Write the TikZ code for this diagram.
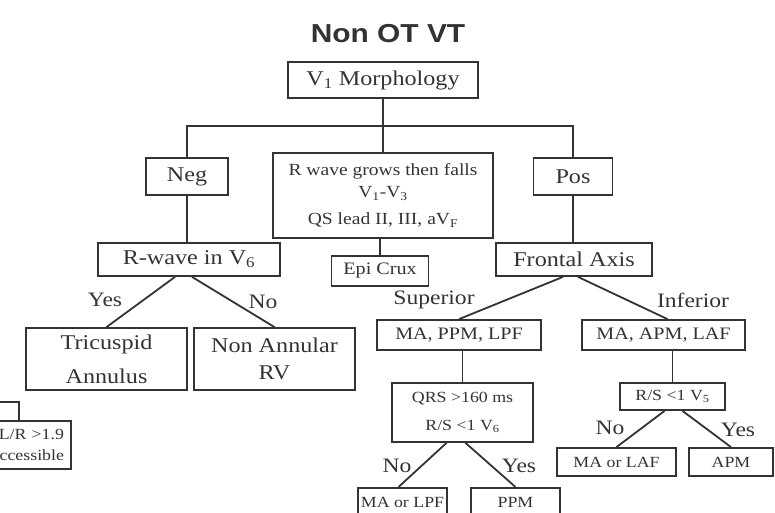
\documentclass[tikz,border=0pt]{standalone}
\usepackage{fontspec}
\setmainfont{Liberation Serif}[FakeStretch=1.15]
\newfontfamily\titlefont{Liberation Sans}[FakeStretch=1.15]
\definecolor{ink}{HTML}{333333}
\newcommand{\fs}[1]{\fontsize{#1}{#1}\selectfont}
\begin{document}
\begin{tikzpicture}[x=1pt, y=-1pt]
\tikzset{box/.style={draw=ink, line width=1.8pt, text=ink, inner sep=0pt, align=center, font=\fs{21}},
  smallbox/.style={box, font=\fs{17.5}},
  tinybox/.style={box, font=\fs{15.5}},
  lbl/.style={text=ink, inner sep=0pt, font=\fs{20.5}},
  link/.style={draw=ink, line width=1.8pt}}
\useasboundingbox (0,0) rectangle (775,512);
\clip (0,0) rectangle (775,512);
\node[text=ink, font=\titlefont\bfseries\fs{26}] (title) at (388,34) {Non OT VT};
\node[box, minimum width=190pt, minimum height=36pt] (morph) at (383,80) {V\textsubscript{1} Morphology};
\node[box, minimum width=82pt, minimum height=37pt] (neg) at (187,176.5) {Neg};
\node[smallbox, minimum width=220pt, minimum height=85pt, font=\fs{17}] (mid) at (383,195.5) {R wave grows then falls\\[5pt] V\textsubscript{1}-V\textsubscript{3}\\[10pt] QS lead II, III, aV\textsubscript{F}};
\node[box, minimum width=79pt, minimum height=37pt] (pos) at (573,176.5) {Pos};
\node[box, minimum width=182pt, minimum height=33pt] (rwave) at (189,259.5) {R-wave in V\textsubscript{6}};
\node[smallbox, minimum width=97pt, minimum height=30pt] (epi) at (380,271) {Epi Crux};
\node[box, minimum width=156pt, minimum height=33pt] (frontal) at (574,259.5) {Frontal Axis};
\node[box, minimum width=161pt, minimum height=62pt] (tric) at (106.5,359) {Tricuspid\\[13pt] Annulus};
\node[box, minimum width=161pt, minimum height=62pt] (nonann) at (274.5,359) {Non Annular\\[6pt] RV};
\node[tinybox, minimum width=104pt, minimum height=48pt, text width=90pt, align=right] (lr) at (19,445) {L/R >1.9\\[6pt] accessible};
\node[smallbox, minimum width=164pt, minimum height=30pt] (mappm) at (459,335) {MA, PPM, LPF};
\node[smallbox, minimum width=163pt, minimum height=30pt] (maapm) at (663.5,335) {MA, APM, LAF};
\node[tinybox, minimum width=141pt, minimum height=59pt] (qrs) at (462.5,412.5) {QRS >160 ms\\[13pt] R/S <1 V\textsubscript{6}};
\node[tinybox, minimum width=105pt, minimum height=27pt] (rs) at (672.5,396.5) {R/S <1 V\textsubscript{5}};
\node[tinybox, minimum width=119pt, minimum height=28pt] (malaf) at (616.5,462) {MA or LAF};
\node[tinybox, minimum width=84pt, minimum height=28pt] (apm) at (731,462) {APM};
\node[tinybox, minimum width=89pt, minimum height=30pt, anchor=north] (malpf) at (402.5,487) {MA or LPF};
\node[tinybox, minimum width=89pt, minimum height=30pt, anchor=north] (ppm) at (515.5,487) {PPM};
% branch labels
\node[lbl] (yes1) at (105,300) {Yes};
\node[lbl] (no1) at (263,302) {No};
\node[lbl] (sup) at (434,300) {Superior};
\node[lbl] (inf) at (693,300) {Inferior};
\node[lbl] (no2) at (610,428) {No};
\node[lbl] (yes2) at (738,430) {Yes};
\node[lbl] (no3) at (397,466) {No};
\node[lbl] (yes3) at (519,466) {Yes};
% connectors
\coordinate (bus) at (383,126);
\coordinate (lrin) at (0,402);
\draw[link] (morph) -- (mid);
\draw[link] (neg.north) |- (bus) -| (pos.north);
\draw[link] (neg.south) -- (neg.south |- rwave.north);
\draw[link] (epi.north |- mid.south) -- (epi.north);
\draw[link] (pos.south) -- (pos.south |- frontal.north);
\draw[link] ([xshift=-14pt]rwave.south) -- (tric.north);
\draw[link] ([xshift=3pt]rwave.south) -- (nonann.north);
\draw[link] (lrin) -| (lr.north);
\draw[link] ([xshift=-11pt]frontal.south) -- (mappm.north);
\draw[link] ([xshift=4pt]frontal.south) -- ([xshift=4pt]maapm.north);
\draw[link] (qrs.north |- mappm.south) -- (qrs.north);
\draw[link] (rs.north |- maapm.south) -- (rs.north);
\draw[link] ([xshift=-8pt]rs.south) -- (malaf.north);
\draw[link] ([xshift=10pt]rs.south) -- (apm.north);
\draw[link] ([xshift=-16pt]qrs.south) -- ([xshift=-4pt]malpf.north);
\draw[link] ([xshift=3pt]qrs.south) -- (ppm.north);
\end{tikzpicture}
\end{document}
